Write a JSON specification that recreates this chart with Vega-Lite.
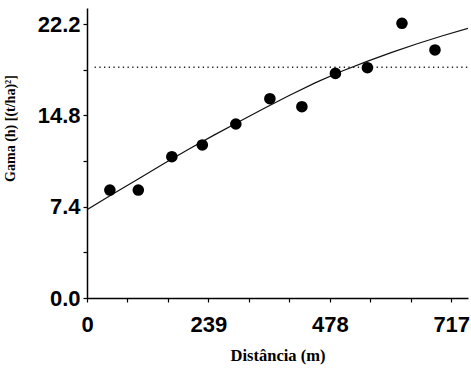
{
  "$schema": "https://vega.github.io/schema/vega-lite/v6.json",
  "width": 381,
  "height": 290,
  "autosize": "none",
  "padding": {"left": 87, "top": 8, "right": 3, "bottom": 70},
  "background": "white",
  "config": {
    "view": {"stroke": null},
    "axis": {
      "grid": false,
      "domainColor": "#000",
      "domainWidth": 1.5,
      "tickColor": "#000",
      "tickWidth": 1.2,
      "tickSize": 4,
      "labelColor": "#000",
      "labelFont": "Liberation Sans",
      "labelFontWeight": "bold",
      "labelFontSize": 22,
      "titleColor": "#000",
      "titleFont": "Liberation Serif",
      "titleFontWeight": "bold",
      "titleFontSize": 14
    }
  },
  "datasets": {
    "obs": [
      {"dist": 45, "gamma": 8.75},
      {"dist": 101, "gamma": 8.75},
      {"dist": 167, "gamma": 11.45},
      {"dist": 227, "gamma": 12.4},
      {"dist": 293, "gamma": 14.1},
      {"dist": 360, "gamma": 16.15},
      {"dist": 423, "gamma": 15.5},
      {"dist": 489, "gamma": 18.2},
      {"dist": 552, "gamma": 18.66},
      {"dist": 620, "gamma": 22.26},
      {"dist": 685, "gamma": 20.1}
    ],
    "model": [
      {"dist": 0, "gamma": 7.15},
      {"dist": 50, "gamma": 8.4},
      {"dist": 100, "gamma": 9.63},
      {"dist": 150, "gamma": 10.85},
      {"dist": 200, "gamma": 12.05},
      {"dist": 250, "gamma": 13.2},
      {"dist": 300, "gamma": 14.3},
      {"dist": 350, "gamma": 15.4},
      {"dist": 400, "gamma": 16.45},
      {"dist": 450, "gamma": 17.45},
      {"dist": 500, "gamma": 18.35},
      {"dist": 550, "gamma": 19.15},
      {"dist": 600, "gamma": 19.9},
      {"dist": 650, "gamma": 20.6},
      {"dist": 700, "gamma": 21.25},
      {"dist": 750, "gamma": 21.85}
    ],
    "sill": [
      {"from": 15, "to": 750, "gamma": 18.7}
    ]
  },
  "layer": [
    {
      "data": {"name": "model"},
      "mark": {"type": "line", "color": "#111", "strokeWidth": 1.2, "clip": true},
      "encoding": {
        "x": {
          "field": "dist",
          "type": "quantitative",
          "scale": {"domain": [0, 750], "nice": false, "zero": true},
          "axis": {
            "title": "Distância (m)",
            "titleFontSize": 16.5,
            "titlePadding": 12,
            "labelPadding": 12,
            "values": [0, 79.667, 159.333, 239, 318.667, 398.333, 478, 557.667, 637.333, 717],
            "labelExpr": "indexof([0,239,478,717], datum.value) >= 0 ? datum.label : ''",
            "labelFlush": false
          }
        },
        "y": {
          "field": "gamma",
          "type": "quantitative",
          "scale": {"domain": [0, 23.5], "nice": false},
          "axis": {
            "title": "Gama (h) [(t/ha)²]",
            "titleX": -77,
            "titleY": 120,
            "titleBaseline": "middle",
            "titleAngle": -90,
            "titleAlign": "center",
            "labelPadding": 3,
            "values": [0, 3.7, 7.4, 11.1, 14.8, 18.5, 22.2],
            "labelExpr": "indexof([0,7.4,14.8,22.2], datum.value) >= 0 ? format(datum.value, '.1f') : ''",
            "labelFlush": false
          }
        }
      }
    },
    {
      "data": {"name": "sill"},
      "mark": {"type": "rule", "color": "#222", "strokeWidth": 1.3, "strokeDash": [1.3, 3.4]},
      "encoding": {
        "y": {"field": "gamma", "type": "quantitative"},
        "x": {"field": "from", "type": "quantitative"},
        "x2": {"field": "to"}
      }
    },
    {
      "data": {"name": "obs"},
      "mark": {"type": "circle", "color": "#000", "opacity": 1, "size": 135},
      "encoding": {
        "x": {"field": "dist", "type": "quantitative"},
        "y": {"field": "gamma", "type": "quantitative"}
      }
    }
  ]
}
